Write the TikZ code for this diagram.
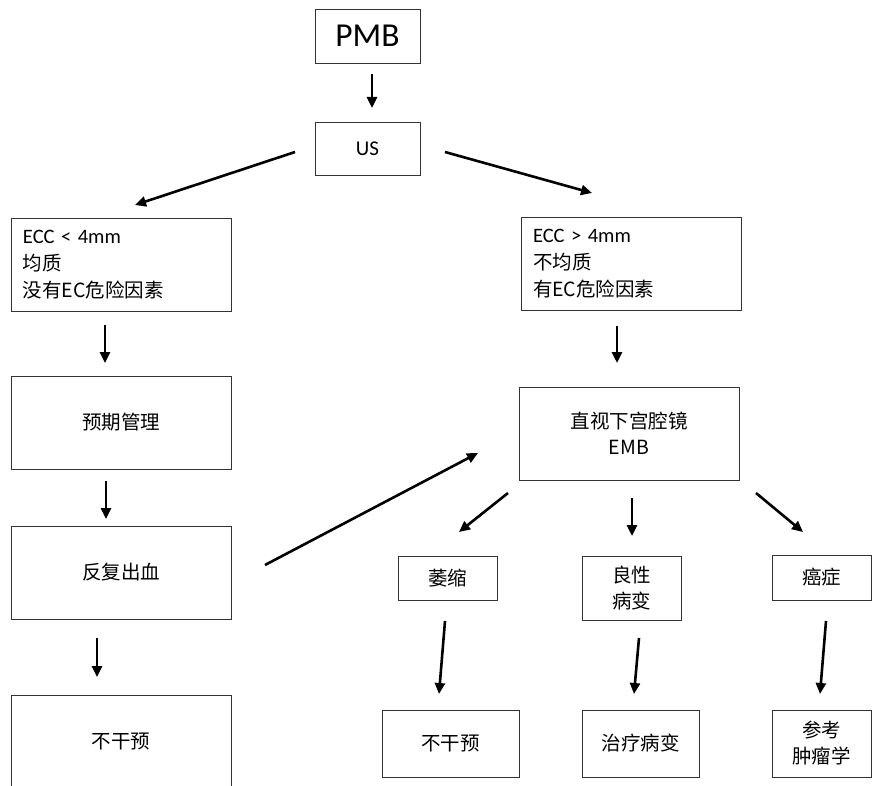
\documentclass[tikz,border=0pt]{standalone}
\usepackage{fontspec}
\setmainfont{Carlito}
\newfontfamily\cjk{Noto Sans CJK SC}
\newcommand{\latf}{\fontsize{20.5}{27}\selectfont}
\usetikzlibrary{arrows.meta}
\begin{document}
\begin{tikzpicture}[x=1pt,y=-1pt,
  box/.style={draw=black!80, line width=0.9pt, inner sep=0pt, align=center,
              font=\fontsize{19.5}{26}\selectfont},
  lbox/.style={box, align=left, text width=196pt, font=\fontsize{19.5}{27}\selectfont},
  arr/.style={line width=2.6pt, -{Triangle[length=11pt,width=10pt]}}]
\useasboundingbox (0,0) rectangle (872,786);
\clip (0,0) rectangle (872,786);

% boxes
\node[box, minimum width=105pt, minimum height=54pt, font=\fontsize{33.5}{34}\selectfont] (pmb) at (367.5,36) {PMB};
\node[box, minimum width=105pt, minimum height=53pt, font=\fontsize{21}{22}\selectfont] (us) at (367.5,148.5) {US};
\node[lbox, minimum width=220pt, minimum height=93pt] (l1) at (121,264.5) {{\latf ECC < 4mm}\\ {\cjk 均质}\\ {\cjk 没有EC危险因素}};
\node[box, minimum width=220pt, minimum height=93pt] (l2) at (121,422.5) {\cjk 预期管理};
\node[box, minimum width=220pt, minimum height=93pt] (l3) at (121,572.5) {\cjk 反复出血};
\node[box, minimum width=220pt, minimum height=94pt] (l4) at (121,742) {\cjk 不干预};
\node[lbox, minimum width=220pt, minimum height=93pt] (r1) at (631,263.5) {{\latf ECC > 4mm}\\ {\cjk 不均质}\\ {\cjk 有EC危险因素}};
\node[box, minimum width=220pt, minimum height=93pt] (r2) at (629,433.5) {\cjk 直视下宫腔镜\\ \cjk EMB};
\node[box, minimum width=99pt, minimum height=44pt] (a) at (447.5,578) {\cjk 萎缩};
\node[box, minimum width=99pt, minimum height=64pt] (b) at (631.5,588) {\cjk 良性\\ \cjk 病变};
\node[box, minimum width=99pt, minimum height=45pt] (c) at (821.5,577.5) {\cjk 癌症};
\node[box, minimum width=137pt, minimum height=67pt] (d) at (450.5,743.5) {\cjk 不干预};
\node[box, minimum width=117pt, minimum height=67pt] (e) at (640.5,743.5) {\cjk 治疗病变};
\node[box, minimum width=99pt, minimum height=67pt] (f) at (821.5,743.5) {\cjk 参考\\ \cjk 肿瘤学};

% arrow end points
\coordinate (a1s) at (372,74);   \coordinate (a1e) at (372,108);
\coordinate (a2s) at (295,152);  \coordinate (a2e) at (135,205);
\coordinate (a3s) at (445,152);  \coordinate (a3e) at (592,193);
\coordinate (a4s) at (105,325);  \coordinate (a4e) at (105,363);
\coordinate (a5s) at (617,326);  \coordinate (a5e) at (617,363);
\coordinate (a6s) at (106,481);  \coordinate (a6e) at (106,519);
\coordinate (a7s) at (97,638);   \coordinate (a7e) at (97,677);
\coordinate (a8s) at (265,565);  \coordinate (a8e) at (478,453);
\coordinate (a9s) at (508,493);  \coordinate (a9e) at (459,532);
\coordinate (a10s) at (632,498); \coordinate (a10e) at (632,536);
\coordinate (a11s) at (756,493); \coordinate (a11e) at (803,532);
\coordinate (a12s) at (445,621); \coordinate (a12e) at (439,694);
\coordinate (a13s) at (639,638); \coordinate (a13e) at (634,694);
\coordinate (a14s) at (826,621); \coordinate (a14e) at (820,694);

\foreach \i in {1,...,14} \draw[arr] (a\i s) -- (a\i e);
\end{tikzpicture}
\end{document}
